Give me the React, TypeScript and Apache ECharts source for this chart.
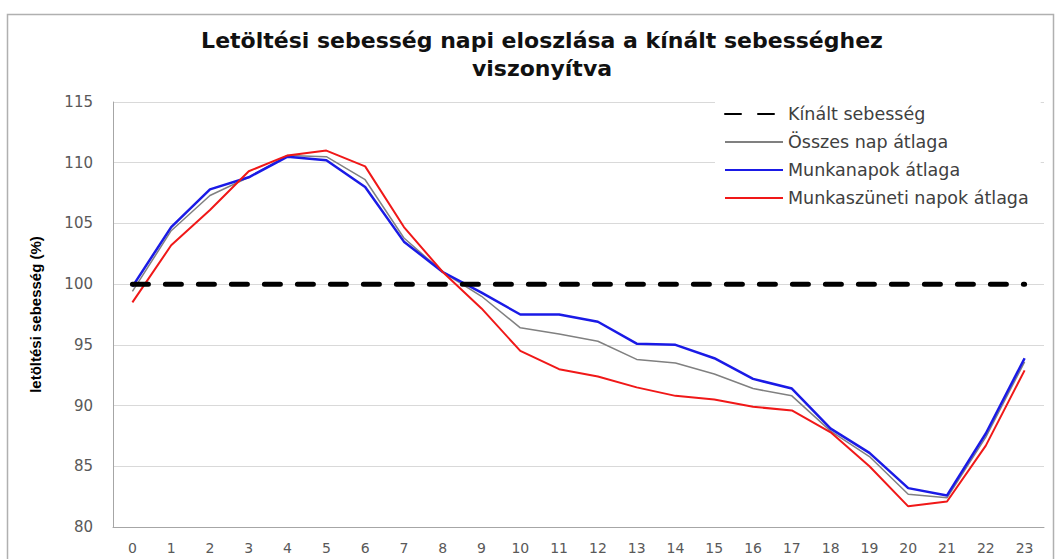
import React, { useEffect, useRef } from "react";
import * as echarts from "echarts";

const hours = ["0","1","2","3","4","5","6","7","8","9","10","11","12","13","14","15","16","17","18","19","20","21","22","23"];
const offered = [100,100,100,100,100,100,100,100,100,100,100,100,100,100,100,100,100,100,100,100,100,100,100,100];
const allDays = [99.4,104.4,107.3,108.8,110.6,110.5,108.6,103.8,101.0,99.0,96.4,95.9,95.3,93.8,93.5,92.6,91.4,90.8,87.9,85.8,82.7,82.4,87.4,93.6];
const workdays = [99.8,104.7,107.8,108.8,110.5,110.2,108.0,103.5,101.0,99.3,97.5,97.5,96.9,95.1,95.0,93.9,92.2,91.4,88.1,86.1,83.2,82.6,87.7,93.9];
const holidays = [98.5,103.2,106.1,109.3,110.6,111.0,109.7,104.7,101.0,98.0,94.5,93.0,92.4,91.5,90.8,90.5,89.9,89.6,87.8,85.0,81.7,82.1,86.7,92.9];

const title = "Letöltési sebesség napi eloszlása a kínált sebességhez\nviszonyítva";
const yName = "letöltési sebesség (%)";
const names = ["Kínált sebesség","Összes nap átlaga","Munkanapok átlaga","Munkaszüneti napok átlaga"];

export default function App() {
  const ref = useRef<HTMLDivElement>(null);
  useEffect(() => {
    const chart = echarts.init(ref.current!, null, { renderer: "svg" });
    chart.setOption({
      animation: false,
      backgroundColor: "#fff",
      graphic: [
        { type: "rect", left: 5, top: 12, shape: { width: 1046, height: 560 }, style: { fill: "none", stroke: "#b0b0b0", lineWidth: 1.5 }, z: -1 },
        {
          type: "text",
          x: 542,
          y: 26,
          style: {
            text: title,
            align: "center",
            verticalAlign: "top",
            fontFamily: "DejaVu Sans",
            fontWeight: "bold",
            fontSize: 22,
            lineHeight: 28,
            fill: "#111",
          },
        },
      ],
      legend: {
        orient: "vertical",
        left: 715,
        top: 98,
        padding: [7, 12, 10, 9],
        backgroundColor: "#fff",
        itemWidth: 58,
        itemHeight: 14,
        itemGap: 10,
        itemStyle: { opacity: 0 },
        textStyle: { fontFamily: "DejaVu Sans", fontSize: 17.5, color: "#404040" },
        data: names,
      },
      grid: { left: 113, right: 12, top: 102, bottom: 32 },
      xAxis: {
        type: "category",
        data: hours,
        axisLine: { lineStyle: { color: "#a6a6a6" } },
        axisTick: { show: false },
        axisLabel: { fontFamily: "DejaVu Sans", fontSize: 14, color: "#595959", margin: 14 },
      },
      yAxis: {
        type: "value",
        min: 80,
        max: 115,
        interval: 5,
        name: yName,
        nameLocation: "middle",
        nameGap: 70,
        nameTextStyle: { fontFamily: "Liberation Sans", fontWeight: "bold", fontSize: 15, color: "#000" },
        axisLine: { show: true, lineStyle: { color: "#a6a6a6" } },
        axisTick: { show: false },
        axisLabel: { fontFamily: "DejaVu Sans", fontSize: 15, color: "#595959", margin: 20 },
        splitLine: { lineStyle: { color: "#d9d9d9" } },
      },
      series: [
        { name: names[0], type: "line", data: offered, symbol: "none", lineStyle: { color: "#000", width: 5, type: [16, 17], cap: "round" }, itemStyle: { color: "#000" }, z: 5 },
        { name: names[1], type: "line", data: allDays, symbol: "none", lineStyle: { color: "#808080", width: 1.5 }, itemStyle: { color: "#808080" } },
        { name: names[2], type: "line", data: workdays, symbol: "none", lineStyle: { color: "#1a1ae6", width: 2.5 }, itemStyle: { color: "#1a1ae6" } },
        { name: names[3], type: "line", data: holidays, symbol: "none", lineStyle: { color: "#f01818", width: 2 }, itemStyle: { color: "#f01818" } },
      ],
    });
    return () => chart.dispose();
  }, []);
  return <div ref={ref} style={{ width: 1056, height: 559, position: "absolute", left: 0, top: 0 }} />;
}
